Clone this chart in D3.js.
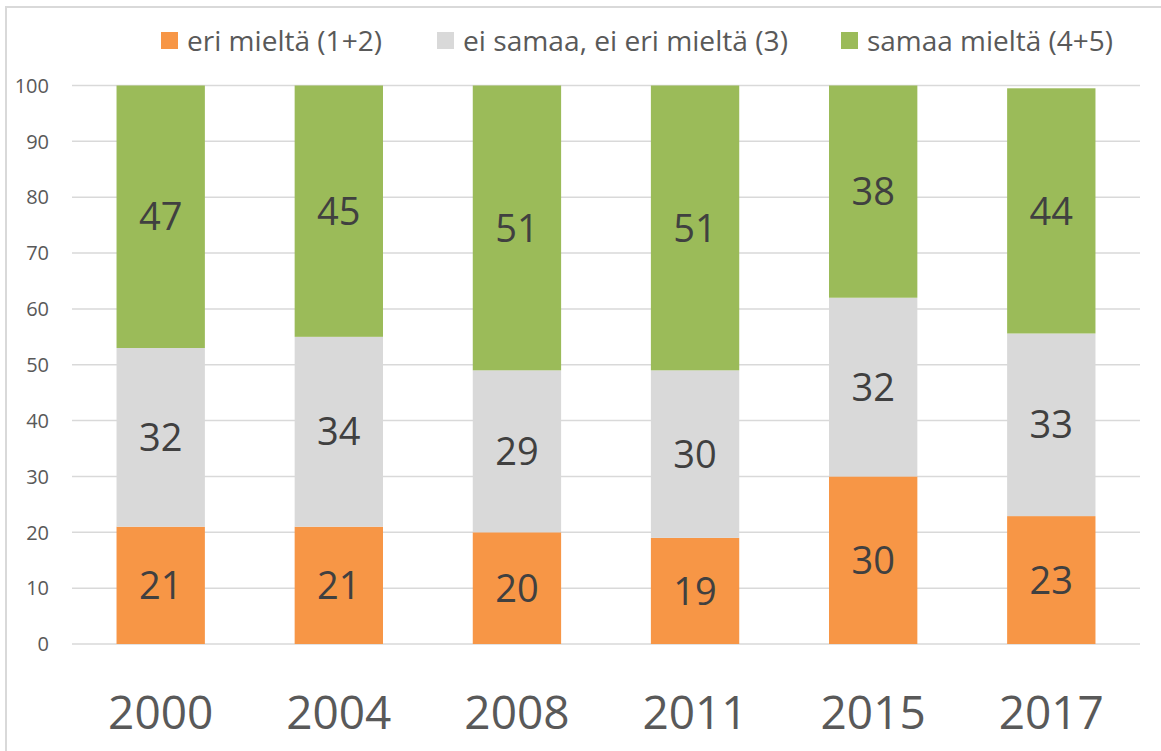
<!DOCTYPE html>
<html>
<head>
<meta charset="utf-8">
<script src="https://cdn.jsdelivr.net/npm/d3@7"></script>
<style>
  body { margin: 0; background: #fff; }
  svg { display: block; font-family: "Open Sans", sans-serif; }
</style>
</head>
<body>
<div id="wrapper"></div>
<script>
// data
const years = ["2000", "2004", "2008", "2011", "2015", "2017"]
const seriesNames = ["eri mieltä (1+2)", "ei samaa, ei eri mieltä (3)", "samaa mieltä (4+5)"]
const eriMielta = [21, 21, 20, 19, 30, 22.9]
const eiSamaaEiEri = [32, 34, 29, 30, 32, 32.7]
const samaaMielta = [47, 45, 51, 51, 38, 43.9]
const yTicks = [0, 10, 20, 30, 40, 50, 60, 70, 80, 90, 100]
const colors = ["#F79646", "#D9D9D9", "#9BBB59"]

const dimensions = {
  width: 1161,
  height: 751,
  margins: { top: 85.5, right: 21, bottom: 107, left: 72 }
}
dimensions.boundedWidth = dimensions.width - dimensions.margins.left - dimensions.margins.right
dimensions.boundedHeight = dimensions.height - dimensions.margins.top - dimensions.margins.bottom

const wrapper = d3.select("#wrapper")
  .append("svg")
  .attr("width", dimensions.width)
  .attr("height", dimensions.height)

// chart border (cut off on right and bottom)
wrapper.append("rect")
  .attr("x", 6)
  .attr("y", 7)
  .attr("width", 1200)
  .attr("height", 800)
  .attr("fill", "none")
  .attr("stroke", "#D9D9D9")
  .attr("stroke-width", 2)

const bounds = wrapper.append("g")
  .attr("transform", `translate(${dimensions.margins.left},${dimensions.margins.top})`)

const rows = years.map((y, i) => ({
  year: y,
  s0: eriMielta[i],
  s1: eiSamaaEiEri[i],
  s2: samaaMielta[i]
}))
const stacked = d3.stack().keys(["s0", "s1", "s2"])(rows)

const xScale = d3.scaleBand()
  .domain(years)
  .range([0, dimensions.boundedWidth])
  .paddingInner(0.504)
  .paddingOuter(0.25)

const yScale = d3.scaleLinear()
  .domain([0, 100])
  .range([dimensions.boundedHeight, 0])

// gridlines
bounds.append("g")
  .selectAll("line")
  .data(yTicks)
  .join("line")
  .attr("x1", 0)
  .attr("x2", dimensions.boundedWidth)
  .attr("y1", d => yScale(d))
  .attr("y2", d => yScale(d))
  .attr("stroke", "#D9D9D9")
  .attr("stroke-width", 1.5)

// y tick labels
bounds.append("g")
  .selectAll("text")
  .data(yTicks)
  .join("text")
  .attr("x", -23)
  .attr("y", d => yScale(d))
  .attr("dy", "0.36em")
  .attr("text-anchor", "end")
  .attr("fill", "#595959")
  .style("font-size", "20px")
  .text(d => d)

// bars
const layers = bounds.append("g")
  .selectAll("g")
  .data(stacked)
  .join("g")
  .attr("fill", (d, i) => colors[i])

layers.selectAll("rect")
  .data(d => d)
  .join("rect")
  .attr("x", d => xScale(d.data.year))
  .attr("width", xScale.bandwidth())
  .attr("y", d => yScale(d[1]))
  .attr("height", d => yScale(d[0]) - yScale(d[1]))

// data labels
layers.selectAll("text")
  .data(d => d.map(p => ({ p, key: d.key })))
  .join("text")
  .attr("x", d => xScale(d.p.data.year) + xScale.bandwidth() / 2)
  .attr("y", d => (yScale(d.p[0]) + yScale(d.p[1])) / 2)
  .attr("dy", "0.36em")
  .attr("text-anchor", "middle")
  .attr("fill", "#404040")
  .style("font-size", "38px")
  .text(d => Math.round(d.p.data[d.key]))

// x labels
bounds.append("g")
  .selectAll("text")
  .data(years)
  .join("text")
  .attr("x", d => xScale(d) + xScale.bandwidth() / 2)
  .attr("y", dimensions.boundedHeight + 84.5)
  .attr("text-anchor", "middle")
  .attr("fill", "#595959")
  .style("font-size", "46px")
  .text(d => d)

// legend
const legendX = [161, 437, 841]
const legendTextW = [195, 325, 246]
const legend = wrapper.append("g")
  .selectAll("g")
  .data(seriesNames)
  .join("g")
  .attr("transform", (d, i) => `translate(${legendX[i]},32)`)

legend.append("rect")
  .attr("width", 17)
  .attr("height", 17)
  .attr("fill", (d, i) => colors[i])

legend.append("text")
  .attr("x", 26)
  .attr("y", 18.5)
  .attr("fill", "#595959")
  .attr("textLength", (d, i) => legendTextW[i])
  .attr("lengthAdjust", "spacingAndGlyphs")
  .style("font-size", "27px")
  .text(d => d)
</script>
</body>
</html>
